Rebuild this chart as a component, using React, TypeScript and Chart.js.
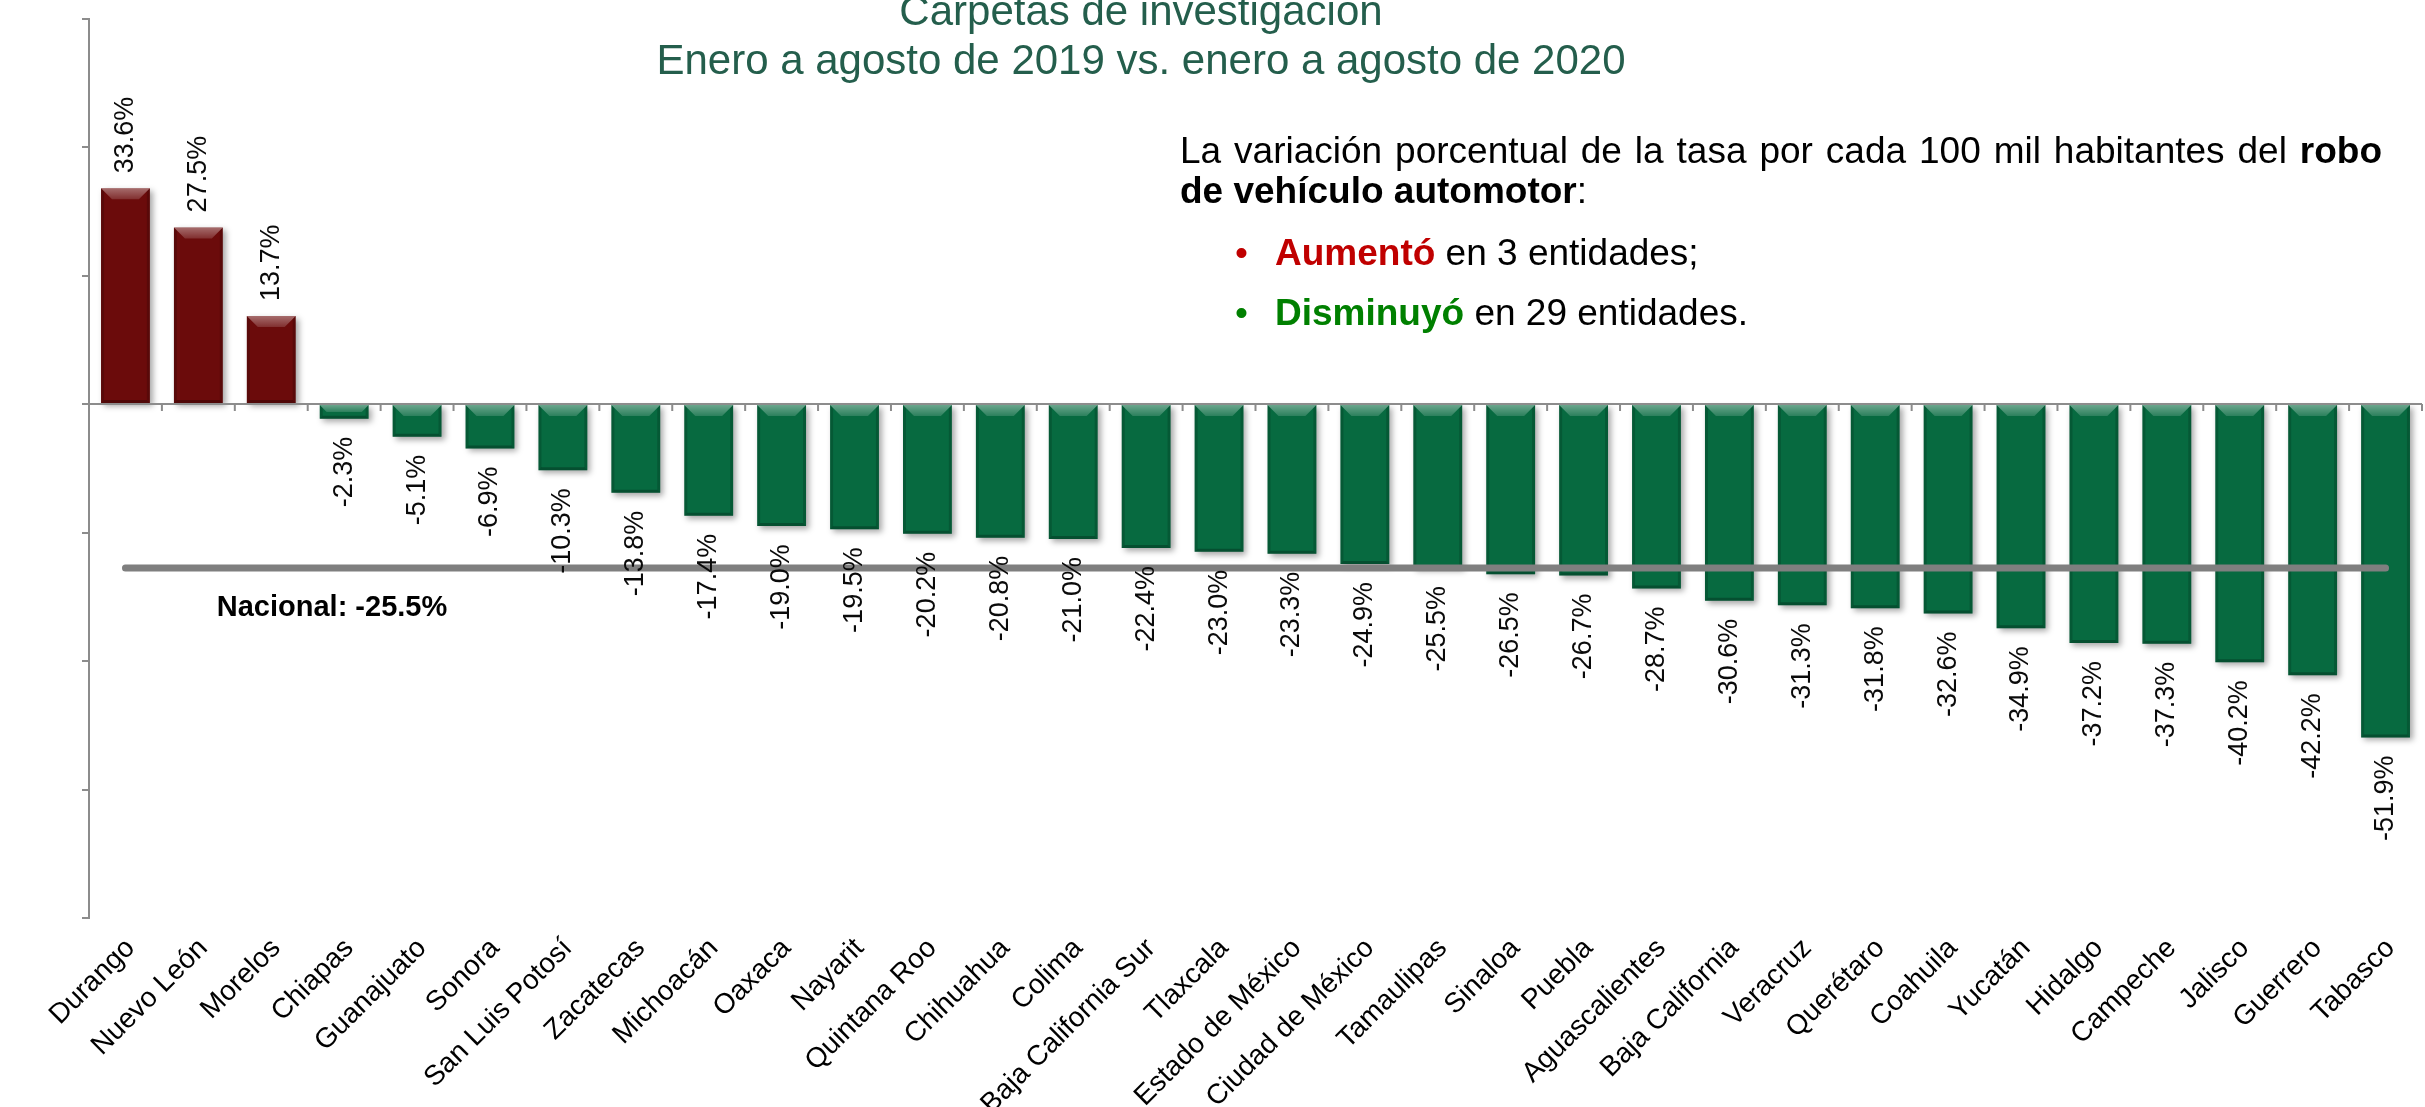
import React, { useEffect, useRef } from "react";
import { Chart, registerables } from "chart.js";

Chart.register(...registerables);

const FONT = "'Liberation Sans', Arial, Helvetica, sans-serif";

const categories = [
  "Durango", "Nuevo León", "Morelos", "Chiapas", "Guanajuato", "Sonora",
  "San Luis Potosí", "Zacatecas", "Michoacán", "Oaxaca", "Nayarit",
  "Quintana Roo", "Chihuahua", "Colima", "Baja California Sur", "Tlaxcala",
  "Estado de México", "Ciudad de México", "Tamaulipas", "Sinaloa", "Puebla",
  "Aguascalientes", "Baja California", "Veracruz", "Querétaro", "Coahuila",
  "Yucatán", "Hidalgo", "Campeche", "Jalisco", "Guerrero", "Tabasco",
];

const variation = [
  33.6, 27.5, 13.7, -2.3, -5.1, -6.9, -10.3, -13.8, -17.4, -19.0, -19.5,
  -20.2, -20.8, -21.0, -22.4, -23.0, -23.3, -24.9, -25.5, -26.5, -26.7,
  -28.7, -30.6, -31.3, -31.8, -32.6, -34.9, -37.2, -37.3, -40.2, -42.2, -51.9,
];

const nationalValue = -25.5;
const nationalText = "Nacional: -25.5%";

const yMin = -80;
const yMax = 60;
const yStep = 20;

const titleLines = [
  "Carpetas de investigación",
  "Enero a agosto de 2019 vs. enero a agosto de 2020",
];

const COLOR_UP = "#6B0B0B";
const COLOR_DOWN = "#076A40";
const AXIS_GRAY = "#8C8C8C";

const decorPlugin = {
  id: "decor",
  beforeDatasetDraw(chart: any, args: any) {
    if (args.meta.type !== "bar") return;
    const ctx = chart.ctx;
    ctx.save();
    ctx.shadowColor = "rgba(0,0,0,0.35)";
    ctx.shadowBlur = 6;
    ctx.shadowOffsetX = 3;
    ctx.shadowOffsetY = 3;
  },
  afterDatasetDraw(chart: any, args: any) {
    if (args.meta.type !== "bar") return;
    const ctx = chart.ctx;
    ctx.restore();
    ctx.save();
    args.meta.data.forEach((el: any) => {
      const { x, y, base, width } = el.getProps(["x", "y", "base", "width"], true);
      const l = x - width / 2;
      const r = x + width / 2;
      const t = Math.min(y, base);
      const b = Math.max(y, base);
      const h = b - t;
      const s = Math.min(3, h / 2);
      ctx.fillStyle = "rgba(0,0,0,0.16)";
      ctx.beginPath();
      ctx.moveTo(l, t); ctx.lineTo(l + s, t + s); ctx.lineTo(l + s, b - s); ctx.lineTo(l, b);
      ctx.closePath(); ctx.fill();
      ctx.beginPath();
      ctx.moveTo(r, t); ctx.lineTo(r - s, t + s); ctx.lineTo(r - s, b - s); ctx.lineTo(r, b);
      ctx.closePath(); ctx.fill();
      ctx.fillStyle = "rgba(0,0,0,0.25)";
      ctx.beginPath();
      ctx.moveTo(l, b); ctx.lineTo(r, b); ctx.lineTo(r - s, b - s); ctx.lineTo(l + s, b - s);
      ctx.closePath(); ctx.fill();
      const d = Math.min(11, h / 2);
      const g = ctx.createLinearGradient(0, t, 0, t + d);
      g.addColorStop(0, "rgba(255,255,255,0.40)");
      g.addColorStop(1, "rgba(255,255,255,0.15)");
      ctx.fillStyle = g;
      ctx.beginPath();
      ctx.moveTo(l, t); ctx.lineTo(r, t); ctx.lineTo(r - d, t + d); ctx.lineTo(l + d, t + d);
      ctx.closePath(); ctx.fill();
    });
    ctx.restore();
  },
  afterDatasetsDraw(chart: any) {
    const ctx = chart.ctx;
    const xs = chart.scales.x;
    const ys = chart.scales.y;
    const area = chart.chartArea;
    ctx.save();
    const y0 = ys.getPixelForValue(0);
    ctx.strokeStyle = AXIS_GRAY;
    ctx.lineWidth = 2;
    ctx.beginPath();
    ctx.moveTo(area.left, y0);
    ctx.lineTo(area.right, y0);
    const step = xs.getPixelForValue(1) - xs.getPixelForValue(0);
    for (let i = 1; i <= categories.length; i++) {
      const px = xs.getPixelForValue(i - 1) + step / 2;
      ctx.moveTo(px, y0);
      ctx.lineTo(px, y0 + 7);
    }
    ctx.stroke();

    const meta = chart.getDatasetMeta(0);
    ctx.font = `27px ${FONT}`;
    ctx.fillStyle = "#0A0A0A";
    ctx.textBaseline = "middle";
    meta.data.forEach((el: any, i: number) => {
      const v = variation[i];
      const { x, y, base } = el.getProps(["x", "y", "base"], true);
      const t = Math.min(y, base);
      const b = Math.max(y, base);
      ctx.save();
      if (v >= 0) {
        ctx.translate(x, t - 15);
        ctx.textAlign = "left";
      } else {
        ctx.translate(x, b + 18);
        ctx.textAlign = "right";
      }
      ctx.rotate(-Math.PI / 2);
      ctx.fillText(`${v.toFixed(1)}%`, 0, 0);
      ctx.restore();
    });

    ctx.font = `bold 29px ${FONT}`;
    ctx.fillStyle = "#000000";
    ctx.textAlign = "center";
    ctx.textBaseline = "middle";
    ctx.fillText(nationalText, area.left + 243, ys.getPixelForValue(nationalValue) + 40);
    ctx.restore();
  },
};

function App() {
  const canvasRef = useRef<HTMLCanvasElement | null>(null);

  useEffect(() => {
    const canvas = canvasRef.current;
    if (!canvas) return;
    const chart = new Chart(canvas, {
      type: "bar",
      data: {
        labels: categories,
        datasets: [
          {
            type: "bar",
            label: "Variación",
            data: variation,
            backgroundColor: variation.map((v) => (v >= 0 ? COLOR_UP : COLOR_DOWN)),
            borderWidth: 0,
            barPercentage: 0.67,
            categoryPercentage: 1,
            order: 1,
          } as any,
          {
            type: "line",
            label: "Nacional",
            data: categories.map(() => nationalValue),
            borderColor: "#7F7F7F",
            borderWidth: 7,
            borderCapStyle: "round",
            pointRadius: 0,
            fill: false,
            order: 0,
          } as any,
        ],
      },
      options: {
        responsive: false,
        animation: false,
        layout: { padding: { top: 17, right: 3, left: 0, bottom: 0 } },
        plugins: {
          legend: { display: false },
          tooltip: { enabled: false },
          title: { display: false },
        },
        scales: {
          x: {
            border: { display: false },
            grid: { display: false, drawTicks: false },
            ticks: {
              autoSkip: false,
              maxRotation: 45,
              minRotation: 45,
              padding: 14,
              labelOffset: 5,
              color: "#000000",
              font: { family: FONT, size: 28 },
            },
            afterFit: (scale: any) => {
              scale.height = 189;
            },
          },
          y: {
            min: yMin,
            max: yMax,
            border: { display: true, color: AXIS_GRAY, width: 2 },
            grid: {
              drawOnChartArea: false,
              drawTicks: true,
              tickLength: 7,
              tickColor: AXIS_GRAY,
              lineWidth: 2,
            },
            ticks: {
              stepSize: yStep,
              color: "#FFFFFF",
              font: { family: FONT, size: 26 },
              callback: (v: any) => `${v}%`,
            },
            afterFit: (scale: any) => {
              scale.width = 89;
            },
          },
        },
      },
      plugins: [decorPlugin],
    });
    return () => chart.destroy();
  }, []);

  return (
    <div
      style={{
        position: "fixed",
        left: 0,
        top: 0,
        width: 2425,
        height: 1107,
        background: "#FFFFFF",
        overflow: "hidden",
        fontFamily: FONT,
      }}
    >
      <canvas ref={canvasRef} width={2425} height={1107} style={{ position: "absolute", left: 0, top: 0 }} />
      <div
        style={{
          position: "absolute",
          left: 1141,
          top: -14,
          transform: "translateX(-50%)",
          textAlign: "center",
          fontSize: 42,
          lineHeight: "49px",
          color: "#245E4C",
          whiteSpace: "nowrap",
        }}
      >
        {titleLines.map((t) => (
          <div key={t}>{t}</div>
        ))}
      </div>
      <div
        style={{
          position: "absolute",
          left: 1180,
          top: 131,
          width: 1202,
          fontSize: 37,
          lineHeight: "40px",
          color: "#000000",
        }}
      >
        <div style={{ textAlign: "justify", textAlignLast: "justify", whiteSpace: "nowrap" } as any}>
          La variación porcentual de la tasa por cada 100 mil habitantes del <b>robo</b>
        </div>
        <div>
          <b>de vehículo automotor</b>:
        </div>
      </div>
      <div style={{ position: "absolute", left: 1275, top: 233, fontSize: 37, lineHeight: "40px", whiteSpace: "nowrap" }}>
        <span style={{ position: "absolute", left: -40, color: "#C00000" }}>•</span>
        <b style={{ color: "#C00000" }}>Aumentó</b> en 3 entidades;
      </div>
      <div style={{ position: "absolute", left: 1275, top: 293, fontSize: 37, lineHeight: "40px", whiteSpace: "nowrap" }}>
        <span style={{ position: "absolute", left: -40, color: "#008000" }}>•</span>
        <b style={{ color: "#008000" }}>Disminuyó</b> en 29 entidades.
      </div>
    </div>
  );
}

export default App;
